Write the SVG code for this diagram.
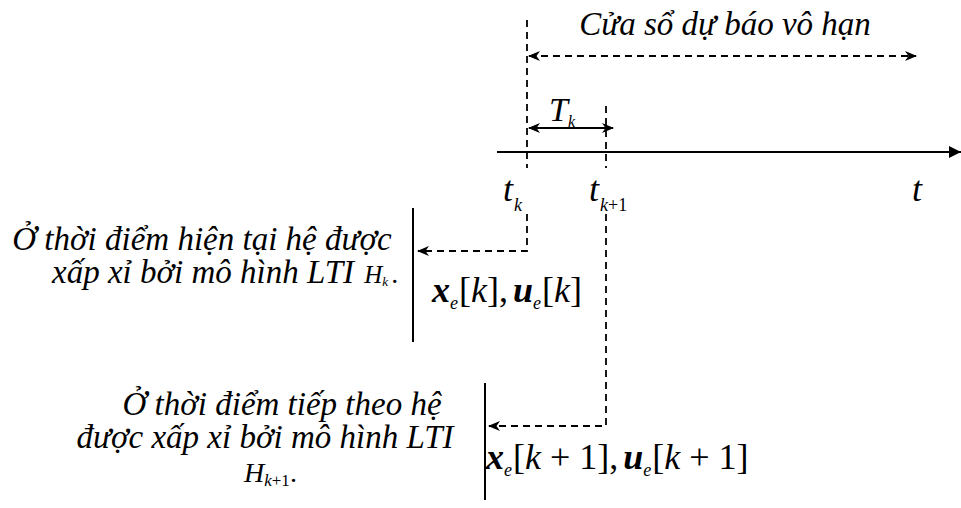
<svg xmlns="http://www.w3.org/2000/svg" width="961" height="508" viewBox="0 0 961 508">
<style>
text{fill:#000;font-family:'Liberation Serif','Times New Roman',serif}
.txt{font-style:italic;font-size:33px}
.mi{font-style:italic}
.mb{font-style:italic;font-weight:bold}
.dash{fill:none;stroke:#000;stroke-width:1.8;stroke-dasharray:7,5}
.solid{fill:none;stroke:#000;stroke-width:2}
</style>
<defs>
<marker id="ah" viewBox="0 0 12 10" refX="11" refY="5" markerWidth="12" markerHeight="10" markerUnits="userSpaceOnUse" orient="auto-start-reverse">
<path d="M0,0 L12,5 L0,10 L3.5,5 z" fill="#000"/>
</marker>
<marker id="tri" viewBox="0 0 12 12" refX="12" refY="6" markerWidth="12" markerHeight="14" markerUnits="userSpaceOnUse" orient="auto">
<path d="M0,0 L12,6 L0,12 z" fill="#000"/>
</marker>
</defs>
<g id="connectors">
<line class="solid" x1="497" y1="152" x2="961" y2="152" marker-end="url(#tri)"/>
<line class="dash" x1="527" y1="20" x2="527" y2="168"/>
<polyline class="dash" points="527,214 527,251 418,251" marker-end="url(#ah)"/>
<line class="dash" x1="606" y1="106" x2="606" y2="168"/>
<polyline class="dash" points="606,214 606,426 489,426" marker-end="url(#ah)"/>
<line class="dash" x1="529" y1="56" x2="916" y2="56" marker-start="url(#ah)" marker-end="url(#ah)"/>
<line class="solid" x1="529" y1="128" x2="613" y2="128" marker-start="url(#ah)" marker-end="url(#ah)"/>
<line class="solid" x1="413" y1="208" x2="413" y2="342"/>
<line class="solid" x1="485" y1="383" x2="485" y2="500"/>
</g>
<g id="title">
<text class="txt" x="725" y="35" text-anchor="middle">Cửa sổ dự báo vô hạn</text>
</g>
<g id="Tk">
<text x="549" y="121" font-size="34"><tspan class="mi">T</tspan><tspan class="mi" font-size="16" dy="6">k</tspan></text>
</g>
<g id="tk">
<text x="503" y="201" font-size="36"><tspan class="mi">t</tspan><tspan class="mi" font-size="18" dy="10" dx="1">k</tspan></text>
</g>
<g id="tk1">
<text x="589" y="201" font-size="36"><tspan class="mi">t</tspan><tspan font-size="18" dy="10" dx="1"><tspan class="mi">k</tspan>+1</tspan></text>
</g>
<g id="t">
<text class="mi" x="912" y="201" font-size="36">t</text>
</g>
<g id="current">
<text class="txt" x="202" y="250" text-anchor="middle">Ở thời điểm hiện tại hệ được</text>
<text class="txt" x="52" y="283">xấp xỉ bởi mô hình LTI <tspan font-size="25" dx="2">H</tspan><tspan font-size="13" dy="3">k</tspan><tspan font-size="28" font-style="normal" dy="-3" dx="3">.</tspan></text>
</g>
<g id="xk">
<text x="432" y="302" font-size="36"><tspan class="mb">x</tspan><tspan class="mi" font-size="18" dy="7">e</tspan><tspan dy="-7" dx="1">[</tspan><tspan class="mi">k</tspan>],<tspan class="mb" dx="5">u</tspan><tspan class="mi" font-size="18" dy="7">e</tspan><tspan dy="-7" dx="1">[</tspan><tspan class="mi">k</tspan>]</text>
</g>
<g id="next">
<text class="txt" x="282" y="415" text-anchor="middle">Ở thời điểm tiếp theo hệ</text>
<text class="txt" x="265" y="448" text-anchor="middle">được xấp xỉ bởi mô hình LTI</text>
<text x="244" y="482" font-size="28"><tspan class="mi">H</tspan><tspan class="mi" font-size="17" dy="4">k</tspan><tspan font-size="17">+1</tspan><tspan font-size="28" dy="-4">.</tspan></text>
</g>
<g id="xk1">
<text x="486" y="469" font-size="36"><tspan class="mb">x</tspan><tspan class="mi" font-size="18" dy="7">e</tspan><tspan dy="-7" dx="1">[</tspan><tspan class="mi">k</tspan> + 1],<tspan class="mb" dx="5">u</tspan><tspan class="mi" font-size="18" dy="7">e</tspan><tspan dy="-7" dx="1">[</tspan><tspan class="mi">k</tspan> + 1]</text>
</g>
</svg>
